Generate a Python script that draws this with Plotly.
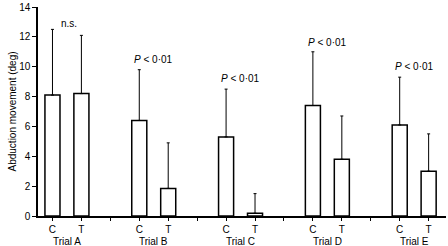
import plotly.graph_objects as go

trials = ["Trial A", "Trial B", "Trial C", "Trial D", "Trial E"]
conditions = ["C", "T"]
means = [8.1, 8.2, 6.4, 1.85, 5.3, 0.18, 7.4, 3.8, 6.1, 3.0]
err_tops = [12.5, 12.1, 9.8, 4.9, 8.5, 1.5, 11.0, 6.7, 9.3, 5.5]
sig_labels = ["n.s.", "<i>P</i> < 0·01", "<i>P</i> < 0·01", "<i>P</i> < 0·01", "<i>P</i> < 0·01"]
y_ticks = [0, 2, 4, 6, 8, 10, 12, 14]
y_title = "Abduction movement (deg)"

xpos = []
labels = []
for g in range(len(trials)):
    for k, c in enumerate(conditions):
        xpos.append(g * 3 + k)
        labels.append(c)
errs = [t - m for t, m in zip(err_tops, means)]

fig = go.Figure()
fig.add_trace(go.Bar(
    x=xpos, y=means, width=0.52,
    marker=dict(color="white", line=dict(color="black", width=1.5)),
    error_y=dict(type="data", symmetric=False, array=errs, arrayminus=[0] * len(errs),
                 color="black", thickness=1, width=1.5),
    showlegend=False, hoverinfo="skip",
))

tickvals = list(xpos) + [g * 3 + 2 for g in range(len(trials) - 1)]
ticktext = list(labels) + [""] * (len(trials) - 1)

annotations = []
label_y = [12.9, 10.5, 9.2, 11.6, 10.0]
for g, (tr, sl) in enumerate(zip(trials, sig_labels)):
    annotations.append(dict(x=g * 3 + 0.5, y=0, xref="x", yref="paper", text=tr,
                            showarrow=False, yshift=-18, yanchor="top",
                            font=dict(size=10, color="black")))
    xa = g * 3 + 0.5 if g > 0 else 0.58
    annotations.append(dict(x=xa, y=label_y[g], xref="x", yref="y", text=sl,
                            showarrow=False, font=dict(size=10, color="black")))
annotations.append(dict(x=0, y=0.5, xref="paper", yref="paper", text=y_title,
                        textangle=-90, showarrow=False, xshift=-26, xanchor="center",
                        yanchor="middle", font=dict(size=10, color="black")))

fig.update_layout(
    width=448, height=246,
    margin=dict(l=38, r=2, t=7, b=30, autoexpand=False),
    paper_bgcolor="white", plot_bgcolor="white",
    font=dict(family="Liberation Sans, Arial, sans-serif", size=10, color="black"),
    annotations=annotations,
    xaxis=dict(range=[-0.5, 13.6], tickvals=tickvals, ticktext=ticktext,
               showline=True, linecolor="black", linewidth=1.5, ticks="outside",
               ticklen=3, tickcolor="black", showgrid=False, zeroline=False,
               tickfont=dict(size=10), automargin=False),
    yaxis=dict(range=[0, 14], tickvals=y_ticks, showline=True, linecolor="black",
               linewidth=1.5, ticks="outside", ticklen=4, tickcolor="black",
               showgrid=False, zeroline=False, tickfont=dict(size=10), automargin=False),
)

fig.write_html("out.html", config={"displayModeBar": False},
               post_script="document.body.style.margin='0';document.body.style.overflow='hidden';")
